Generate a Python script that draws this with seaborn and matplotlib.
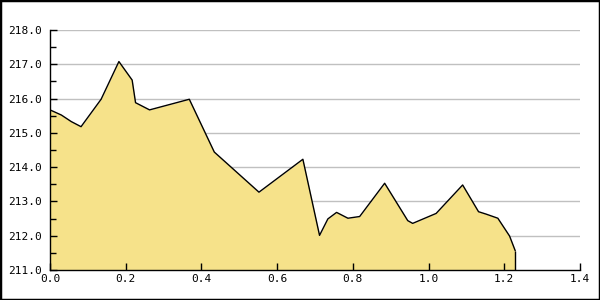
import matplotlib
matplotlib.use("Agg")
import matplotlib.pyplot as plt
import seaborn as sns
import pandas as pd
from matplotlib.patches import Rectangle
from matplotlib.ticker import MultipleLocator, FormatStrFormatter

x_vals = [0.0, 0.03, 0.056, 0.082, 0.135, 0.182, 0.217, 0.226, 0.263, 0.368,
          0.434, 0.552, 0.668, 0.712, 0.734, 0.757, 0.787, 0.818, 0.884,
          0.945, 0.958, 1.02, 1.09, 1.132, 1.152, 1.183, 1.214, 1.229]
y_vals = [215.67, 215.52, 215.33, 215.18, 215.98, 217.08, 216.54, 215.88, 215.67, 215.98,
          214.44, 213.27, 214.23, 212.01, 212.49, 212.68, 212.51, 212.56, 213.53,
          212.44, 212.36, 212.65, 213.48, 212.70, 212.63, 212.51, 211.99, 211.56]
y_ticks = [211, 212, 213, 214, 215, 216, 217, 218]
x_ticks = [0.0, 0.2, 0.4, 0.6, 0.8, 1.0, 1.2, 1.4]

df = pd.DataFrame({"x": x_vals, "y": y_vals})

sns.set_style("white")
plt.rcParams["font.family"] = ["DejaVu Sans Mono", "DejaVu Sans"]

fig = plt.figure(figsize=(6, 3), dpi=100)
ax = fig.add_axes([50 / 600, 30 / 300, 530 / 600, 240 / 300])

ymin, ymax = y_ticks[0], y_ticks[-1]
for yt in y_ticks[1:]:
    ax.axhline(yt, color="#c0c0c0", linewidth=1.0, zorder=0.5)
ax.fill_between(df["x"], df["y"], ymin, color="#F6E28A", linewidth=0, zorder=1)
sns.lineplot(data=df, x="x", y="y", ax=ax, color="black", linewidth=1.0, zorder=3)
ax.vlines(x_vals[-1], ymin, y_vals[-1], color="black", linewidth=1.0, zorder=3)

ax.set_xlim(x_ticks[0], x_ticks[-1])
ax.set_ylim(ymin, ymax)
ax.set_xticks(x_ticks)
ax.set_yticks(y_ticks)
ax.yaxis.set_minor_locator(MultipleLocator(0.5))
ax.xaxis.set_major_formatter(FormatStrFormatter("%.1f"))
ax.yaxis.set_major_formatter(FormatStrFormatter("%.1f"))
ax.grid(False)
ax.set_axisbelow(False)
ax.set_xlabel("")
ax.set_ylabel("")

for s in ["top", "right"]:
    ax.spines[s].set_visible(False)
for s in ["left", "bottom"]:
    ax.spines[s].set_color("black")
    ax.spines[s].set_linewidth(1.0)
    ax.spines[s].set_zorder(4)

ax.tick_params(axis="both", which="major", direction="in", length=5, width=1,
               color="black", labelsize=8, labelcolor="black")
ax.tick_params(axis="y", which="minor", direction="in", length=4, width=1, color="black")
ax.tick_params(axis="y", which="both", left=True)
ax.tick_params(axis="x", which="both", bottom=True, pad=3)
ax.tick_params(axis="y", pad=6)

fig.patches.append(Rectangle((0, 0), 1, 1, transform=fig.transFigure, fill=False,
                             edgecolor="black", linewidth=2.5, zorder=10))

fig.savefig("out.png", dpi=100)
